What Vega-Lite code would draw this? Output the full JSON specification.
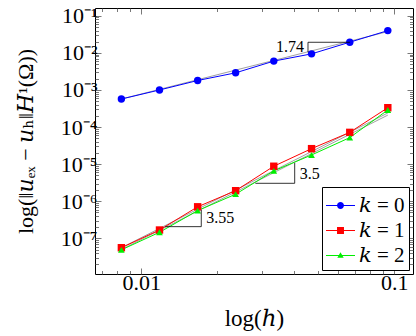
{
  "$schema": "https://vega.github.io/schema/vega-lite/v6.json",
  "width": 318,
  "height": 266,
  "autosize": {"type": "none"},
  "padding": {"left": 95, "top": 8, "right": 3, "bottom": 62},
  "config": {
    "view": {"stroke": "#000", "strokeWidth": 1},
    "font": "Liberation Serif",
    "axis": {"grid": false, "domain": false, "labelFont": "Liberation Serif", "titleFont": "Liberation Serif, DejaVu Serif", "labelColor": "#000", "titleColor": "#000", "titleFontWeight": "normal", "tickColor": "#555", "tickWidth": 0.8, "labelOverlap": false, "labelFlush": false},
    "legend": {"labelFont": "Liberation Serif, DejaVu Serif", "labelFontSize": 21, "labelColor": "#000", "labelFontWeight": "normal"}
  },
  "datasets": {
    "series": [
      {"h": 0.00834, "err": 5.7e-4, "k": 0}, {"h": 0.0118, "err": 1.0e-3, "k": 0}, {"h": 0.0167, "err": 1.8e-3, "k": 0}, {"h": 0.0236, "err": 2.9e-3, "k": 0},
      {"h": 0.0334, "err": 6.0e-3, "k": 0}, {"h": 0.0471, "err": 9.4e-3, "k": 0}, {"h": 0.0667, "err": 1.94e-2, "k": 0}, {"h": 0.0943, "err": 3.98e-2, "k": 0},
      {"h": 0.00834, "err": 5.6e-8, "k": 1}, {"h": 0.0118, "err": 1.68e-7, "k": 1}, {"h": 0.0167, "err": 7.1e-7, "k": 1}, {"h": 0.0236, "err": 1.93e-6, "k": 1},
      {"h": 0.0334, "err": 8.8e-6, "k": 1}, {"h": 0.0471, "err": 2.62e-5, "k": 1}, {"h": 0.0667, "err": 7.2e-5, "k": 1}, {"h": 0.0943, "err": 3.33e-4, "k": 1},
      {"h": 0.00834, "err": 4.9e-8, "k": 2}, {"h": 0.0118, "err": 1.46e-7, "k": 2}, {"h": 0.0167, "err": 5.6e-7, "k": 2}, {"h": 0.0236, "err": 1.55e-6, "k": 2},
      {"h": 0.0334, "err": 6.6e-6, "k": 2}, {"h": 0.0471, "err": 1.77e-5, "k": 2}, {"h": 0.0667, "err": 5.2e-5, "k": 2}, {"h": 0.0943, "err": 2.89e-4, "k": 2}
    ],
    "fits": [
      {"h": 0.00834, "err": 5.7e-4, "fit": "a"}, {"h": 0.0943, "err": 3.75e-2, "fit": "a"},
      {"h": 0.00834, "err": 5.6e-8, "fit": "b"}, {"h": 0.0943, "err": 2.4e-4, "fit": "b"},
      {"h": 0.00834, "err": 5.0e-8, "fit": "c"}, {"h": 0.0943, "err": 2.1e-4, "fit": "c"}
    ],
    "tri": [
      {"h": 0.0456, "err": 0.0104, "tri": 1, "ord": 1}, {"h": 0.0456, "err": 0.0193, "tri": 1, "ord": 2}, {"h": 0.0668, "err": 0.0193, "tri": 1, "ord": 3},
      {"h": 0.02825, "err": 3.05e-6, "tri": 2, "ord": 1}, {"h": 0.0404, "err": 3.05e-6, "tri": 2, "ord": 2}, {"h": 0.0404, "err": 1.08e-5, "tri": 2, "ord": 3},
      {"h": 0.01244, "err": 2.07e-7, "tri": 3, "ord": 1}, {"h": 0.01726, "err": 2.07e-7, "tri": 3, "ord": 2}, {"h": 0.01726, "err": 5.82e-7, "tri": 3, "ord": 3}
    ],
    "slopeL": [{"h": 0.0456, "err": 0.0143, "label": "1.74"}],
    "slopeR": [{"h": 0.0404, "err": 5.5e-6, "label": "3.5"}, {"h": 0.01726, "err": 3.5e-7, "label": "3.55"}]
  },
  "layer": [
    {
      "data": {"name": "fits"},
      "mark": {"type": "line", "color": "#888", "strokeWidth": 0.8},
      "encoding": {
        "x": {"field": "h", "type": "quantitative", "scale": {"type": "log", "domain": [0.00656, 0.1186], "nice": false},
          "axis": {"orient": "bottom", "title": "log(ℎ)", "titleFontSize": 23, "titlePadding": 12, "labelFontSize": 22, "labelPadding": 4,
            "values": [0.007, 0.008, 0.009, 0.01, 0.02, 0.03, 0.04, 0.05, 0.06, 0.07, 0.08, 0.09, 0.1],
            "labelExpr": "abs(log(datum.value)/LN10 - round(log(datum.value)/LN10)) < 1e-6 ? format(datum.value, '~g') : ''",
            "tickSize": {"condition": {"test": "abs(log(datum.value)/LN10 - round(log(datum.value)/LN10)) < 1e-6", "value": -6}, "value": -3.5}}},
        "y": {"field": "err", "type": "quantitative", "scale": {"type": "log", "domain": [1.096e-8, 0.162], "nice": false},
          "axis": {"orient": "left", "title": "log(‖𝑢ₑₓ − 𝑢ₕ‖𝐻¹(Ω))", "titleFontSize": 22, "titlePadding": 23, "labelFontSize": 22, "labelPadding": 4,
            "values": [2e-8, 3e-8, 4e-8, 5e-8, 6e-8, 7e-8, 8e-8, 9e-8, 1e-7, 2e-7, 3e-7, 4e-7, 5e-7, 6e-7, 7e-7, 8e-7, 9e-7, 1e-6, 2e-6, 3e-6, 4e-6, 5e-6, 6e-6, 7e-6, 8e-6, 9e-6, 1e-5, 2e-5, 3e-5, 4e-5, 5e-5, 6e-5, 7e-5, 8e-5, 9e-5, 1e-4, 2e-4, 3e-4, 4e-4, 5e-4, 6e-4, 7e-4, 8e-4, 9e-4, 1e-3, 2e-3, 3e-3, 4e-3, 5e-3, 6e-3, 7e-3, 8e-3, 9e-3, 1e-2, 2e-2, 3e-2, 4e-2, 5e-2, 6e-2, 7e-2, 8e-2, 9e-2, 1e-1],
            "labelExpr": "abs(log(datum.value)/LN10 - round(log(datum.value)/LN10)) < 1e-6 ? '10⁻' + ['⁰','¹','²','³','⁴','⁵','⁶','⁷','⁸','⁹'][-round(log(datum.value)/LN10)] : ''",
            "tickSize": {"condition": {"test": "abs(log(datum.value)/LN10 - round(log(datum.value)/LN10)) < 1e-6", "value": -6}, "value": -3.5}}},
        "detail": {"field": "fit"}
      }
    },
    {
      "data": {"name": "series"},
      "transform": [{"filter": "datum.k == 0"}],
      "mark": {"type": "line", "strokeWidth": 1, "color": "#0000ff"},
      "encoding": {
        "x": {"field": "h", "type": "quantitative",
          "axis": {"orient": "top", "title": null, "labels": false,
            "values": [0.007, 0.008, 0.009, 0.01, 0.02, 0.03, 0.04, 0.05, 0.06, 0.07, 0.08, 0.09, 0.1],
            "tickSize": {"condition": {"test": "abs(log(datum.value)/LN10 - round(log(datum.value)/LN10)) < 1e-6", "value": -6}, "value": -3.5}}},
        "y": {"field": "err", "type": "quantitative",
          "axis": {"orient": "right", "title": null, "labels": false,
            "values": [2e-8, 3e-8, 4e-8, 5e-8, 6e-8, 7e-8, 8e-8, 9e-8, 1e-7, 2e-7, 3e-7, 4e-7, 5e-7, 6e-7, 7e-7, 8e-7, 9e-7, 1e-6, 2e-6, 3e-6, 4e-6, 5e-6, 6e-6, 7e-6, 8e-6, 9e-6, 1e-5, 2e-5, 3e-5, 4e-5, 5e-5, 6e-5, 7e-5, 8e-5, 9e-5, 1e-4, 2e-4, 3e-4, 4e-4, 5e-4, 6e-4, 7e-4, 8e-4, 9e-4, 1e-3, 2e-3, 3e-3, 4e-3, 5e-3, 6e-3, 7e-3, 8e-3, 9e-3, 1e-2, 2e-2, 3e-2, 4e-2, 5e-2, 6e-2, 7e-2, 8e-2, 9e-2, 1e-1],
            "tickSize": {"condition": {"test": "abs(log(datum.value)/LN10 - round(log(datum.value)/LN10)) < 1e-6", "value": -6}, "value": -3.5}}}
      }
    },
    {
      "data": {"name": "series"},
      "transform": [{"filter": "datum.k == 1"}],
      "mark": {"type": "line", "strokeWidth": 1, "color": "#ff0000"},
      "encoding": {
        "x": {"field": "h", "type": "quantitative", "axis": null},
        "y": {"field": "err", "type": "quantitative", "axis": null}
      }
    },
    {
      "data": {"name": "series"},
      "transform": [{"filter": "datum.k == 2"}],
      "mark": {"type": "line", "strokeWidth": 1, "color": "#00ee00"},
      "encoding": {
        "x": {"field": "h", "type": "quantitative", "axis": null},
        "y": {"field": "err", "type": "quantitative", "axis": null}
      }
    },
    {
      "data": {"name": "series"},
      "transform": [{"filter": "datum.k == 0"}],
      "mark": {"type": "point", "filled": true, "opacity": 1, "shape": "circle", "size": 55, "color": "#0000ff"},
      "encoding": {
        "x": {"field": "h", "type": "quantitative", "axis": null},
        "y": {"field": "err", "type": "quantitative", "axis": null}
      }
    },
    {
      "data": {"name": "series"},
      "transform": [{"filter": "datum.k == 1"}],
      "mark": {"type": "point", "filled": true, "opacity": 1, "shape": "square", "size": 55, "color": "#ff0000"},
      "encoding": {
        "x": {"field": "h", "type": "quantitative", "axis": null},
        "y": {"field": "err", "type": "quantitative", "axis": null}
      }
    },
    {
      "data": {"name": "series"},
      "transform": [{"filter": "datum.k == 2"}],
      "mark": {"type": "point", "filled": true, "opacity": 1, "shape": "triangle-up", "size": 45, "color": "#00ee00"},
      "encoding": {
        "x": {"field": "h", "type": "quantitative", "axis": null},
        "y": {"field": "err", "type": "quantitative", "axis": null}
      }
    },
    {
      "data": {"name": "series"},
      "mark": {"type": "point", "filled": true, "opacity": 0},
      "encoding": {
        "x": {"field": "h", "type": "quantitative", "axis": null},
        "y": {"field": "err", "type": "quantitative", "axis": null},
        "color": {"field": "k", "type": "nominal", "scale": {"domain": [0, 1, 2], "range": ["#0000ff", "#ff0000", "#00ee00"]},
          "legend": {"orient": "bottom-right", "offset": 4, "title": null, "symbolSize": 841, "symbolOpacity": 1, "symbolStrokeWidth": 0,
            "labelExpr": "'𝑘 = ' + datum.label", "strokeColor": "#000", "fillColor": "#fff", "padding": 4, "rowPadding": -1}},
        "shape": {"field": "k", "type": "nominal",
          "scale": {"domain": [0, 1, 2], "range": [
            "M-1,-0.035L1,-0.035L1,0.035L-1,0.035ZM0.24,0A0.24,0.24 0 1,1 -0.24,0A0.24,0.24 0 1,1 0.24,0Z",
            "M-1,-0.035L1,-0.035L1,0.035L-1,0.035ZM-0.24,-0.24L0.24,-0.24L0.24,0.24L-0.24,0.24Z",
            "M-1,-0.035L1,-0.035L1,0.035L-1,0.035ZM0,-0.22L0.22,0.16L-0.22,0.16Z"]},
          "legend": {"orient": "bottom-right", "offset": 4, "title": null, "symbolSize": 841, "symbolOpacity": 1, "symbolStrokeWidth": 0,
            "labelExpr": "'𝑘 = ' + datum.label", "strokeColor": "#000", "fillColor": "#fff", "padding": 4, "rowPadding": -1}}
      }
    },
    {
      "data": {"name": "tri"},
      "mark": {"type": "line", "color": "#000", "strokeWidth": 0.8},
      "encoding": {
        "x": {"field": "h", "type": "quantitative", "axis": null},
        "y": {"field": "err", "type": "quantitative", "axis": null},
        "detail": {"field": "tri"},
        "order": {"field": "ord"}
      }
    },
    {
      "data": {"name": "slopeL"},
      "mark": {"type": "text", "align": "right", "baseline": "middle", "dx": -4, "fontSize": 16, "font": "Liberation Serif"},
      "encoding": {
        "x": {"field": "h", "type": "quantitative", "axis": null},
        "y": {"field": "err", "type": "quantitative", "axis": null},
        "text": {"field": "label"}
      }
    },
    {
      "data": {"name": "slopeR"},
      "mark": {"type": "text", "align": "left", "baseline": "middle", "dx": 5, "fontSize": 16, "font": "Liberation Serif"},
      "encoding": {
        "x": {"field": "h", "type": "quantitative", "axis": null},
        "y": {"field": "err", "type": "quantitative", "axis": null},
        "text": {"field": "label"}
      }
    }
  ],
  "resolve": {"axis": {"x": "independent", "y": "independent"}}
}
